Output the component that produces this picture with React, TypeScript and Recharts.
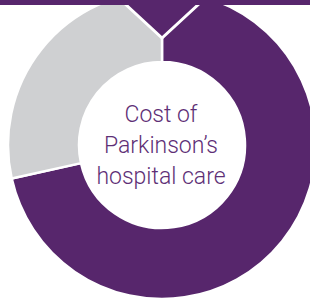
import { PieChart, Pie, Cell, Customized } from "recharts";

const segmentNames = ["Parkinson's", "Other"];
const segmentValues = [71.5, 28.5];
const centerLines = ["Cost of", "Parkinson\u2019s", "hospital care"];

const PURPLE = "#57266c";
const GREY = "#cfd0d2";

const data = segmentNames.map((name, i) => ({ name, value: segmentValues[i] }));
const sliceColors = [PURPLE, GREY];

const CX = 162;
const CY = 145;

function CenterText() {
  return (
    <g>
      {centerLines.map((line, i) => (
        <text
          key={line}
          x={CX - 1}
          y={122 + i * 31}
          textAnchor="middle"
          fill="#5e2f76"
          fontFamily="Roboto, sans-serif"
          fontWeight={300}
          fontSize={23}
        >
          {line}
        </text>
      ))}
    </g>
  );
}

export default function App() {
  return (
    <div style={{ position: "absolute", left: 0, top: 0, width: 310, height: 300, background: "#fff" }}>
      <PieChart width={310} height={300} margin={{ top: 0, right: 0, bottom: 0, left: 0 }}>
        <Pie
          data={data}
          dataKey="value"
          nameKey="name"
          cx={CX}
          cy={CY}
          innerRadius={83}
          outerRadius={154}
          startAngle={90}
          endAngle={-270}
          stroke="#fff"
          strokeWidth={2.5}
          isAnimationActive={false}
        >
          {data.map((d, i) => (
            <Cell key={d.name} fill={sliceColors[i]} />
          ))}
        </Pie>
        <Customized component={CenterText} />
      </PieChart>
      {/* top bar with pointer, laid over the chart */}
      <svg
        width={310}
        height={50}
        style={{ position: "absolute", left: 0, top: 0, pointerEvents: "none" }}
      >
        <polygon
          points={`${CX - 39},2 ${CX},38 ${CX + 39},2`}
          fill={PURPLE}
          stroke="#fff"
          strokeWidth={3}
        />
        <rect x={0} y={0} width={310} height={5} fill={PURPLE} />
      </svg>
    </div>
  );
}
